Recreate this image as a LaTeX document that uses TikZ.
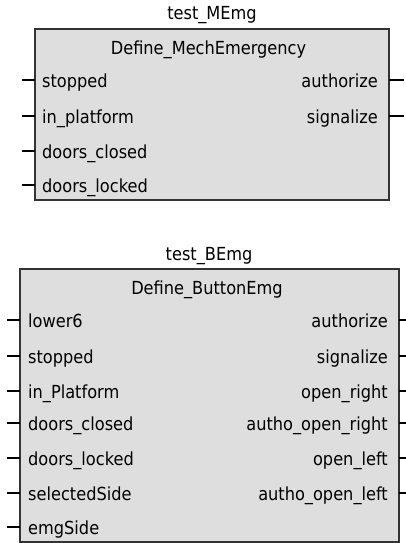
\documentclass[tikz,border=0pt]{standalone}
\usepackage{fontspec}
\setmainfont{DejaVu Sans Condensed}
\definecolor{boxfill}{HTML}{DEDEDE}
\definecolor{boxline}{HTML}{333333}
\begin{document}
\begin{tikzpicture}[x=1pt,y=-1pt,
  fb/.style={draw=boxline,fill=boxfill,line width=1.6pt},
  lbl/.style={inner sep=0pt,font=\fontsize{18}{21}\selectfont},
  pinl/.style={lbl,anchor=base west},
  pinr/.style={lbl,anchor=base east},
  stub/.style={line width=1.2pt,draw=black}]
\useasboundingbox (0,0) rectangle (406,543);
% ---------- top block ----------
\node[fb,minimum width=354pt,minimum height=171pt,inner sep=0pt] (A) at (212,114.5) {};
\node[lbl] (Ati) at (212,15) {test\_MEmg};
\node[lbl] (Ady) at (208.5,50) {Define\_MechEmergency};
\foreach \n/\t/\y in {a1/stopped/80,a2/in\_platform/116,a3/doors\_closed/151,a4/doors\_locked/185}{
  \node[pinl] (\n) at (42,\y+7) {\t};
  \coordinate (\n s) at (22,\y);
  \coordinate (\n e) at (35,\y);
  \draw[stub] (\n s) -- (\n e);
}
\foreach \n/\t/\y in {b1/authorize/80,b2/signalize/116}{
  \node[pinr] (\n) at (378,\y+7) {\t};
  \coordinate (\n s) at (389,\y);
  \coordinate (\n e) at (404,\y);
  \draw[stub] (\n s) -- (\n e);
}
% ---------- bottom block ----------
\node[fb,minimum width=379pt,minimum height=273pt,inner sep=0pt] (B) at (209.5,405.5) {};
\node[lbl] (Bti) at (209,256) {test\_BEmg};
\node[lbl] (Bdy) at (207,290) {Define\_ButtonEmg};
\foreach \n/\t/\y in {c1/lower6/320,c2/stopped/356,c3/in\_Platform/391,c4/doors\_closed/423,c5/doors\_locked/458,c6/selectedSide/493,c7/emgSide/527}{
  \node[pinl] (\n) at (28,\y+7) {\t};
  \coordinate (\n s) at (7,\y);
  \coordinate (\n e) at (20,\y);
  \draw[stub] (\n s) -- (\n e);
}
\foreach \n/\t/\y in {d1/authorize/320,d2/signalize/356,d3/open\_right/391,d4/autho\_open\_right/423,d5/open\_left/458,d6/autho\_open\_left/493}{
  \node[pinr] (\n) at (388,\y+7) {\t};
  \coordinate (\n s) at (399,\y);
  \coordinate (\n e) at (406,\y);
  \draw[stub] (\n s) -- (\n e);
}
\end{tikzpicture}
\end{document}
